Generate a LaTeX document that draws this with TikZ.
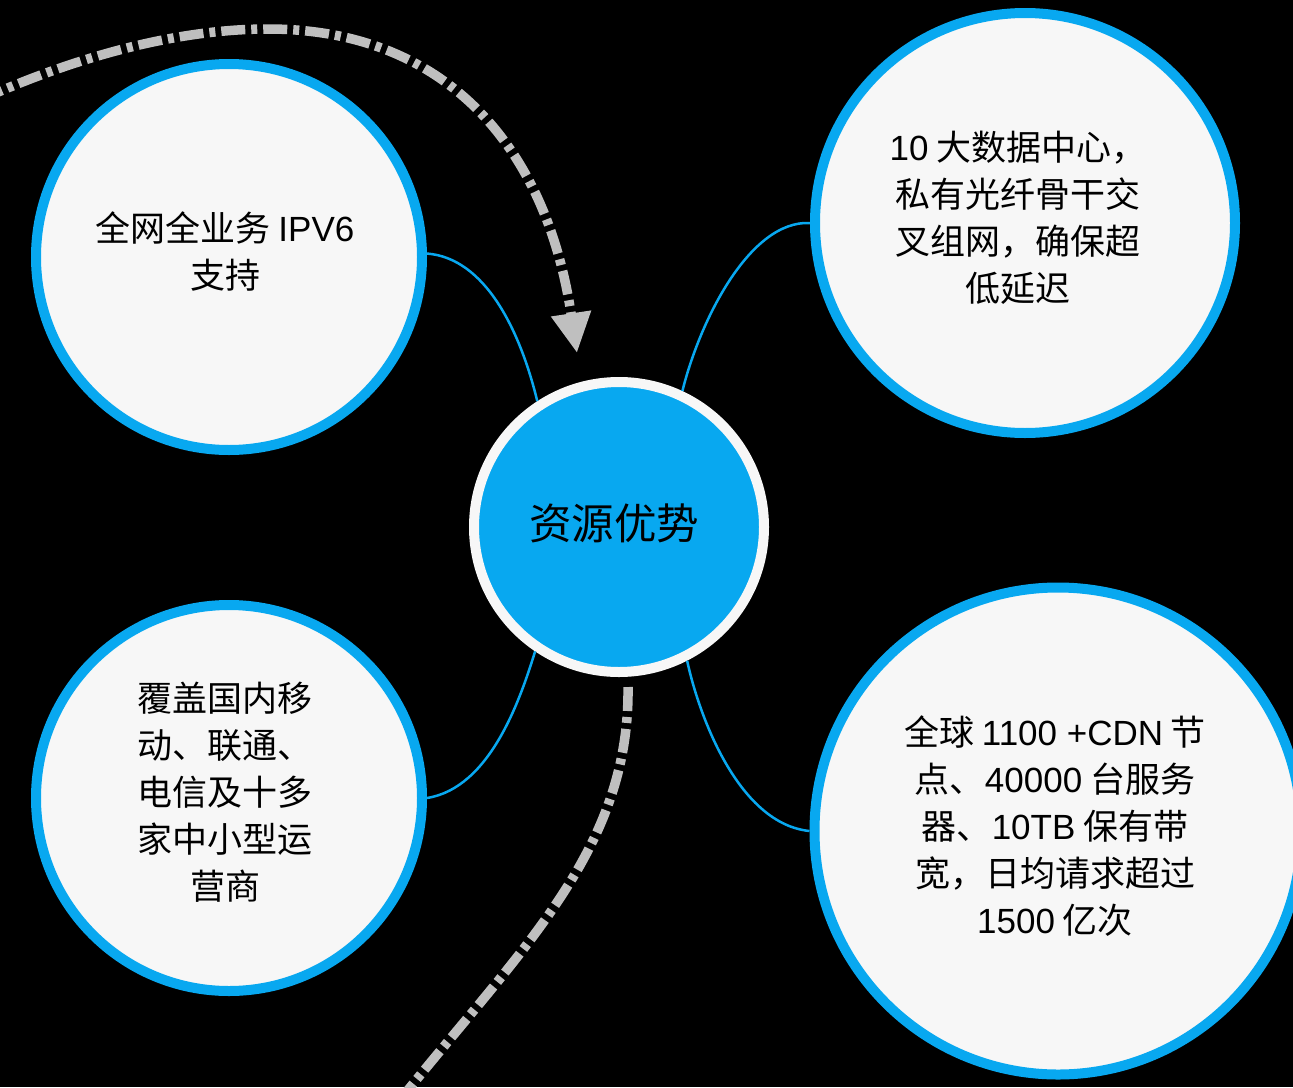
\documentclass[tikz,border=0pt]{standalone}
\usepackage{fontspec}
\setmainfont{Noto Sans CJK SC}
\newfontfamily\lat{Liberation Sans}
\usetikzlibrary{arrows.meta}
\definecolor{myblue}{HTML}{08A8F0}
\definecolor{myfill}{HTML}{F7F7F7}
\definecolor{mygray}{HTML}{BFBFBF}
\begin{document}
\begin{tikzpicture}[x=1pt,y=-1pt,
 bubble/.style={circle, draw=myblue, line width=10pt, fill=myfill, inner sep=0pt},
 hub/.style={circle, draw=myfill, line width=10pt, fill=myblue, inner sep=0pt, minimum size=290pt},
 hubtxt/.style={font=\fontsize{42.5}{50}\selectfont, text=black, inner sep=0pt},
 txt/.style={align=center, font=\fontsize{35}{47}\selectfont, text=black, inner sep=0pt},
 link/.style={draw=myblue, line width=2.5pt},
 flow/.style={draw=mygray, line width=9.5pt, dash pattern=on 24pt off 6pt on 6pt off 6pt}
]
\fill[black] (0,0) rectangle (1293,1087);
\useasboundingbox (0,0) rectangle (1293,1087);
\clip (0,0) rectangle (1293,1087);

% dashed flows
\coordinate (f1s) at (-20,100);
\coordinate (f1m) at (268,29);
\coordinate (f1e) at (577,353);
\draw[flow, -{Triangle[length=40pt,width=38pt]}] (f1s) .. controls (80,55) and (180,29) .. (f1m)
  .. controls (440,29) and (545,140) .. (f1e);
\coordinate (f2s) at (628,687);
\coordinate (f2e) at (400,1100);
\draw[flow] (f2s) .. controls (630,850) and (520,950) .. (f2e);

% bubbles
\node[bubble, minimum size=386pt] (tl) at (229,257) {};
\node[bubble, minimum size=386pt] (bl) at (229,798) {};
\node[bubble, minimum size=420pt] (tr) at (1025,223) {};
\node[bubble, minimum size=487pt] (br) at (1058,831) {};
\node[hub] (c) at (619,527) {};
\node[hubtxt] (ct) at (614,523) {资源优势};

% texts
\node[txt] (tlt) at (225,252) {全网全业务 {\lat IPV6}\\支持};
\node[txt] (trt) at (1018,218) {{\lat 10} 大数据中心，\\私有光纤骨干交\\叉组网，确保超\\低延迟};
\node[txt] (blt) at (225,792) {覆盖国内移\\动、联通、\\电信及十多\\家中小型运\\营商};
\node[txt] (brt) at (1055,826) {全球 {\lat 1100 +CDN} 节\\点、{\lat 40000} 台服务\\器、{\lat 10TB} 保有带\\宽，日均请求超过\\{\lat 1500} 亿次};

% links
\draw[link] (tl.1) .. controls (485,258) and (520,330) .. (c.123);
\draw[link] (tr.west) .. controls (750,220) and (700,320) .. (c.65);
\draw[link] (bl.east) .. controls (490,788) and (520,700) .. (c.236);
\draw[link] (br.west) .. controls (740,824) and (700,720) .. (c.297);
\end{tikzpicture}
\end{document}
